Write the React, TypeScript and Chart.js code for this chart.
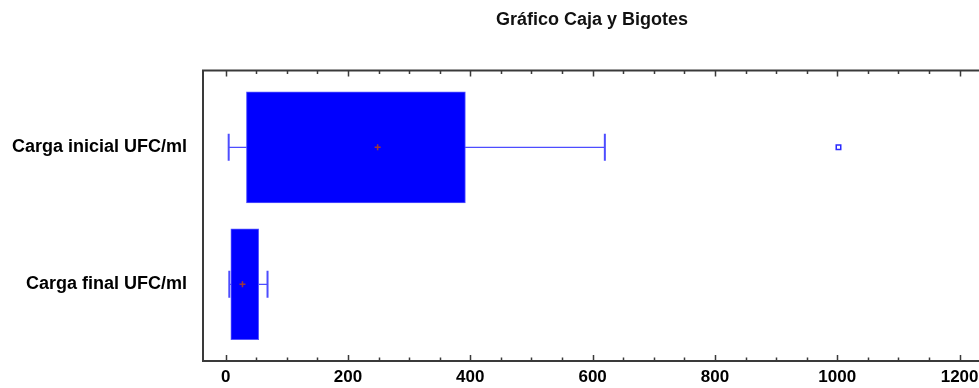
import React, { useEffect, useRef } from 'react';
import { Chart, registerables } from 'chart.js';

Chart.register(...registerables);

// ---- data ----
const categories = ['Carga inicial UFC/ml', 'Carga final UFC/ml'];
const whiskerLow = [5, 6];
const quartile1 = [34, 8.5];
const quartile3 = [392, 54];
const whiskerHigh = [620, 68.5];
const means = [248.5, 27.5];
const outlierCategory = [0];
const outlierValues = [1002];
const xTickValues = [0, 200, 400, 600, 800, 1000, 1200];
const xMinorStep = 50;
const xMin = -37;
const xMax = 1235;
const titleText = 'Gráfico Caja y Bigotes';

// ---- styles ----
const FONT = "'Liberation Sans', Arial, sans-serif";
const BOX_FILL = '#0000ff';
const BOX_EDGE = '#5555ff';
const WHISKER = '#4d4dff';
const FRAME = '#3a3a3a';

const framePlugin = {
  id: 'frameTicks',
  afterDraw(chart: any) {
    const { ctx, chartArea } = chart;
    const xs = chart.scales.x;
    const { left, right, top, bottom } = chartArea;
    ctx.save();
    ctx.strokeStyle = FRAME;
    ctx.lineWidth = 2;
    ctx.beginPath();
    ctx.moveTo(left, top);
    ctx.lineTo(right + 20, top);
    ctx.moveTo(left, top - 1);
    ctx.lineTo(left, bottom + 1);
    ctx.moveTo(left, bottom);
    ctx.lineTo(right + 20, bottom);
    ctx.stroke();
    ctx.lineWidth = 1.5;
    ctx.beginPath();
    const start = Math.ceil(xMin / xMinorStep) * xMinorStep;
    for (let v = start; v <= xMax; v += xMinorStep) {
      if (v < 0) continue;
      const px = Math.round(xs.getPixelForValue(v)) + 0.5;
      const major = xTickValues.includes(v);
      const len = major ? 6 : 3.5;
      ctx.moveTo(px, top);
      ctx.lineTo(px, top + len);
      ctx.moveTo(px, bottom);
      ctx.lineTo(px, bottom - len);
    }
    ctx.stroke();
    ctx.restore();
  },
};

export default function App() {
  const ref = useRef<HTMLCanvasElement | null>(null);

  useEffect(() => {
    if (!ref.current) return;
    const boxData = categories.map((_, i) => ({ y: i, x: [quartile1[i], quartile3[i]] }));
    const whiskerSets = categories.map((_, i) => ({
      type: 'scatter' as const,
      data: [
        { x: whiskerLow[i], y: i },
        { x: whiskerHigh[i], y: i },
      ],
      showLine: true,
      borderColor: WHISKER,
      borderWidth: 1.2,
      pointStyle: 'line',
      rotation: 90,
      pointRadius: 13.5,
      pointBorderWidth: 2,
      pointBorderColor: WHISKER,
      pointBackgroundColor: WHISKER,
      order: 3,
    }));
    const chart = new Chart(ref.current, {
      type: 'bar',
      data: {
        datasets: [
          {
            type: 'bar',
            data: boxData as any,
            backgroundColor: BOX_FILL,
            borderColor: BOX_EDGE,
            borderWidth: 1,
            borderSkipped: false,
            barThickness: 111,
            order: 2,
          } as any,
          ...whiskerSets,
          {
            type: 'scatter',
            data: categories.map((_, i) => ({ x: means[i], y: i })),
            pointStyle: 'cross',
            pointRadius: 3,
            pointBorderWidth: 1.5,
            pointBorderColor: '#a03838',
            order: 1,
          } as any,
          {
            type: 'scatter',
            data: outlierValues.map((v, k) => ({ x: v, y: outlierCategory[k] })),
            pointStyle: 'rect',
            pointRadius: 3.2,
            pointBorderWidth: 1.5,
            pointBorderColor: '#2a2aff',
            pointBackgroundColor: '#ffffff',
            order: 1,
          } as any,
        ],
      },
      options: {
        indexAxis: 'y',
        responsive: false,
        animation: false,
        layout: { padding: { left: 0, right: 19, top: 0, bottom: 0 } },
        plugins: {
          legend: { display: false },
          tooltip: { enabled: false },
          title: {
            display: true,
            fullSize: false,
            text: titleText,
            color: '#111',
            font: { family: FONT, size: 18, weight: 'bold' },
            padding: { top: 9, bottom: 40 },
          },
        },
        scales: {
          x: {
            type: 'linear',
            position: 'bottom',
            min: xMin,
            max: xMax,
            offset: false,
            afterBuildTicks: (s: any) => {
              s.ticks = xTickValues.map((v) => ({ value: v }));
            },
            afterFit: (s: any) => {
              s.height = 27;
            },
            grid: { display: false, drawTicks: false },
            border: { display: false },
            ticks: {
              color: '#000',
              padding: 6,
              maxRotation: 0,
              autoSkip: false,
              font: { family: FONT, size: 17, weight: 'bold' },
              callback: (v: any) => String(v),
            },
          },
          y: {
            type: 'linear',
            reverse: true,
            offset: false,
            min: -0.56,
            max: 1.56,
            afterBuildTicks: (s: any) => {
              s.ticks = categories.map((_, i) => ({ value: i }));
            },
            afterFit: (s: any) => {
              s.width = 203;
            },
            grid: { display: false, drawTicks: false, offset: false },
            border: { display: false },
            ticks: {
              color: '#000',
              padding: 16,
              autoSkip: false,
              font: { family: FONT, size: 18, weight: 'bold' },
              callback: (v: any) => categories[Number(v)] ?? '',
            },
          },
        },
      } as any,
      plugins: [framePlugin],
    });
    return () => chart.destroy();
  }, []);

  return (
    <div
      style={{
        position: 'fixed',
        left: 0,
        top: 0,
        width: 979,
        height: 388,
        overflow: 'hidden',
        background: '#fff',
      }}
    >
      <canvas ref={ref} width={1000} height={388} style={{ display: 'block' }} />
    </div>
  );
}
